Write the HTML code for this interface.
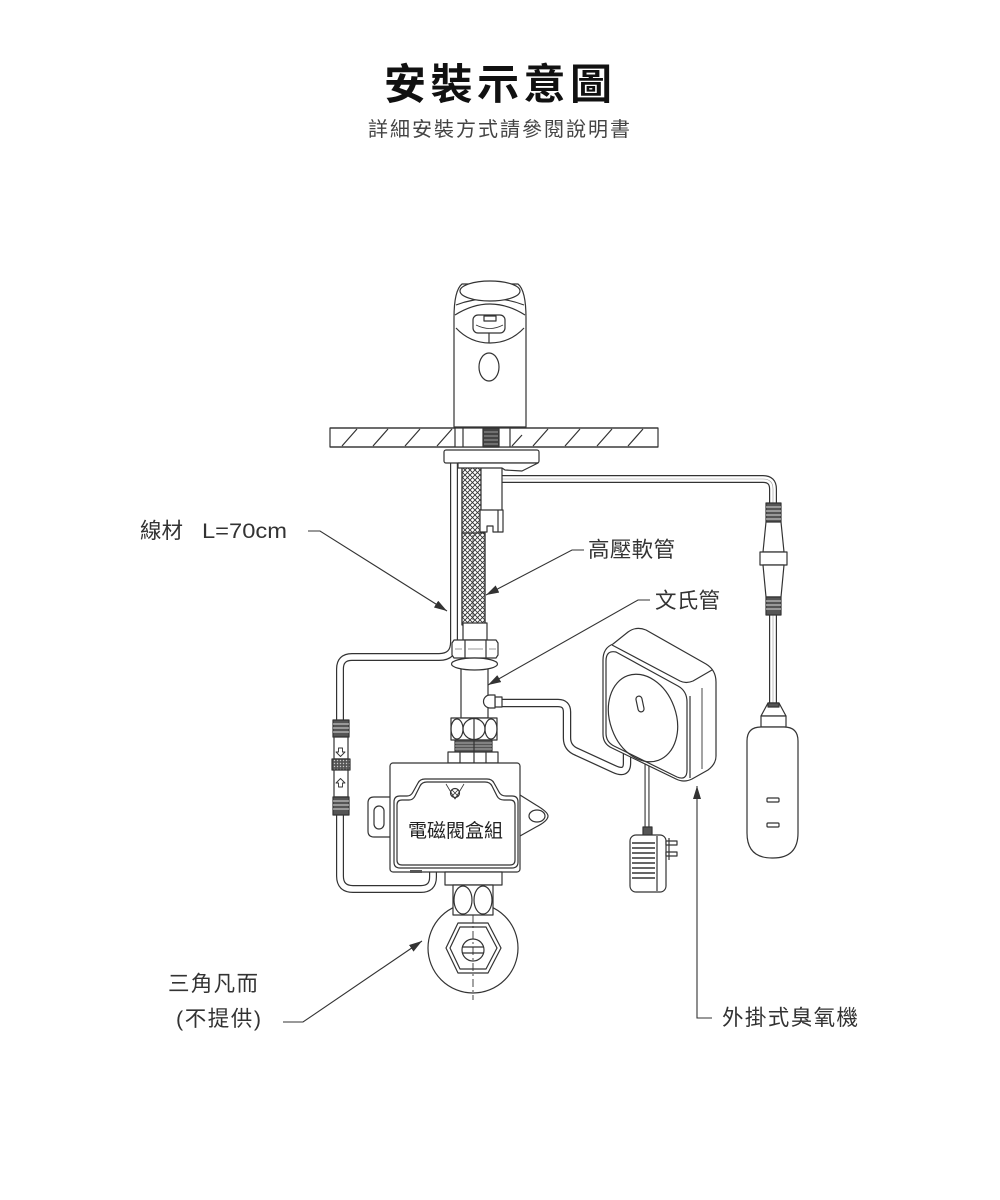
<!DOCTYPE html>
<html><head><meta charset="utf-8"><style>
html,body{margin:0;padding:0;background:#fff;}
svg{display:block;}
text{font-family:"Liberation Sans","Noto Sans CJK TC",sans-serif;}
</style></head><body>
<svg width="1000" height="1200" viewBox="0 0 1000 1200" xmlns="http://www.w3.org/2000/svg">
<defs>
<pattern id="braid" patternUnits="userSpaceOnUse" width="5" height="5">
<rect width="5" height="5" fill="#fff"/>
<path d="M0,0 L5,5 M5,0 L0,5" stroke="#333" stroke-width="0.9"/>
</pattern>
<pattern id="knurl" patternUnits="userSpaceOnUse" width="3" height="3">
<rect width="3" height="3" fill="#555"/>
<circle cx="1.5" cy="1.5" r="0.7" fill="#ccc"/>
</pattern>
<marker id="ah" markerUnits="userSpaceOnUse" markerWidth="14" markerHeight="8" refX="13" refY="4" orient="auto">
<path d="M0,0 L13,4 L0,8 Z" fill="#333"/>
</marker>
</defs>

<!-- Title -->
<text x="384" y="99" font-size="42" font-weight="bold" fill="#111" textLength="228" lengthAdjust="spacing">安裝示意圖</text>
<text x="368" y="136" font-size="20" fill="#444" textLength="262" lengthAdjust="spacing">詳細安裝方式請參閱說明書</text>

<g stroke="#333" stroke-width="1.2" fill="none" stroke-linejoin="round">

<!-- left cable double line -->
<path d="M454,463 L454,642 Q454,657 439,657 L352,657 Q340,657 340,669 L340,876 Q340,889 353,889 L421,889 Q433,889 433,877 L433,870" stroke="#333" stroke-width="8"/>
<path d="M454,463 L454,642 Q454,657 439,657 L352,657 Q340,657 340,669 L340,876 Q340,889 353,889 L421,889 Q433,889 433,877 L433,870" stroke="#fff" stroke-width="5.6"/>

<!-- right wire from faucet -->
<path d="M500,479 L763,479 Q773,479 773,489 L773,505" stroke="#333" stroke-width="8"/>
<path d="M500,479 L763,479 Q773,479 773,489 L773,505" stroke="#fff" stroke-width="5.6"/>
<path d="M500,479 L763,479 Q773,479 773,489 L773,505" stroke="#999" stroke-width="0.6"/>
<path d="M773,612 L773,705" stroke="#333" stroke-width="8"/>
<path d="M773,612 L773,705" stroke="#fff" stroke-width="5.6"/>
<path d="M773,612 L773,705" stroke="#999" stroke-width="0.6"/>

<!-- braided hose -->
<rect x="462" y="466" width="19" height="70" fill="url(#braid)"/>
<rect x="462" y="533" width="23" height="92" fill="url(#braid)"/>
<line x1="462" y1="466" x2="462" y2="625"/>
<line x1="485" y1="533" x2="485" y2="625"/>
<line x1="473" y1="535" x2="473" y2="620" stroke-width="0.8"/>
<!-- shank tube & fitting -->
<rect x="481" y="463" width="21" height="48" fill="#fff"/>
<path d="M480,510 L503,510 L503,532 L493,532 L493,526 L487,526 L487,532 L480,532 Z" fill="#fff"/>
<line x1="498" y1="510" x2="498" y2="532"/>

<!-- faucet body -->
<path d="M454,427 L454,318 C454,298 457,288 462,284 L518,284 C523,288 526,298 526,318 L526,427 Z" fill="#fff"/>
<path d="M456,305 Q490,292 524,305"/>
<ellipse cx="490" cy="291" rx="30" ry="10" fill="#fff"/>
<path d="M455,315 Q490,293 525,315"/>
<path d="M456,328 Q470,343 490,343 Q510,343 524,328"/>
<rect x="473" y="315" width="32" height="18" rx="5" fill="#fff"/>
<rect x="484" y="316" width="12" height="5" fill="#fff"/>
<path d="M476,325 Q490,332 503,325" stroke-width="0.8"/>
<line x1="489" y1="333" x2="489" y2="343"/>
<ellipse cx="489" cy="367" rx="10" ry="14"/>

<!-- counter -->
<rect x="330" y="428" width="328" height="19" fill="#fff"/>
<path d="M342,446 L357,429 M373,446 L388,429 M405,446 L420,429 M437,446 L452,429 M533,446 L548,429 M565,446 L580,429 M597,446 L612,429 M628,446 L643,429 M512,446 L522,435"/>
<rect x="455" y="428" width="56" height="19" fill="#fff" stroke="none"/>
<line x1="455" y1="428" x2="455" y2="447"/>
<line x1="463" y1="428" x2="463" y2="447"/>
<line x1="510" y1="428" x2="510" y2="447"/>
<rect x="483" y="428" width="16" height="19" fill="#444"/>
<path d="M484,432 L498,432 M484,436 L498,436 M484,440 L498,440 M484,444 L498,444" stroke="#bbb" stroke-width="0.8"/>
<line x1="330" y1="428" x2="658" y2="428"/>
<line x1="330" y1="447" x2="658" y2="447"/>

<!-- plate under counter -->
<rect x="444" y="450" width="95" height="13" rx="2" fill="#fff"/>
<path d="M458,463 L538,463 L522,471 L505,470 L502,468 L458,468 Z" fill="#fff"/>

<!-- hose bottom ferrule & nut -->
<rect x="463" y="623" width="24" height="17" fill="#fff"/>
<path d="M454,640 L496,640 L498,643 L498,655 L496,658 L454,658 L452,655 L452,643 Z" fill="#fff"/>
<line x1="465" y1="640" x2="465" y2="658"/>
<line x1="486" y1="640" x2="486" y2="658"/>
<path d="M455,649 L462,649 M468,649 L483,649 M489,649 L496,649" stroke-width="0.6"/>

<!-- venturi pipe -->
<rect x="461" y="664" width="27" height="54" fill="#fff"/>
<ellipse cx="474.5" cy="664" rx="23" ry="6" fill="#fff"/>
<!-- port tube -->
<path d="M500,703 L558,703 Q567,703 567,712 L567,738 Q567,748 577,752 L614,769 Q627,775 627,763 L627,750" stroke="#333" stroke-width="8.5"/>
<path d="M500,703 L558,703 Q567,703 567,712 L567,738 Q567,748 577,752 L614,769 Q627,775 627,763 L627,750" stroke="#fff" stroke-width="6"/>
<rect x="495" y="697" width="7" height="10" fill="#fff"/>
<path d="M490,695 L495,695 L495,708 L490,708 A6.5,6.5 0 0 1 490,695 Z" fill="#fff"/>

<!-- lower nut -->
<rect x="451" y="718" width="46" height="22" fill="#fff"/>
<ellipse cx="457" cy="729" rx="6" ry="10"/>
<ellipse cx="474" cy="729" rx="11" ry="10.5"/>
<ellipse cx="491" cy="729" rx="6" ry="10"/>
<rect x="455" y="740" width="37" height="12" fill="#555"/>
<path d="M455,743 L492,743 M455,746 L492,746 M455,749 L492,749" stroke="#ccc" stroke-width="0.8"/>
<line x1="474" y1="718" x2="474" y2="752"/>
<rect x="448" y="752" width="50" height="11" fill="#fff"/>
<path d="M460,752 L460,763 M474,752 L474,763 M486,752 L486,763"/>

<!-- power cable of ozone device -->
<path d="M647,755 L647,829" stroke="#333" stroke-width="5"/>
<path d="M647,755 L647,829" stroke="#fff" stroke-width="2.8"/>

<!-- ozone device -->
<path d="M603,660 Q603,648 613,644 L628,632 Q636,626 646,630 L706,664 Q716,670 716,682 L716,756 Q716,764 708,770 L692,779 Q684,783 676,779 L612,748 Q603,744 603,734 Z" fill="#fff"/>
<path d="M606,661 Q606,650 616,652 L678,686 Q687,691 687,702 L687,770 Q687,781 677,777 L614,746 Q606,742 606,733 Z"/>
<path d="M612,645 L680,681 Q686,684 693,681 L712,670"/>
<path d="M690,696 L690,778"/>
<path d="M702,688 L702,769" stroke-width="0.9"/>
<ellipse cx="643" cy="718" rx="33" ry="45" transform="rotate(-20 643 718)"/>
<rect x="637" y="696" width="6" height="16" rx="3" transform="rotate(-12 640 704)"/>

<!-- adapter -->
<rect x="643" y="827" width="9" height="9" fill="#555"/>
<rect x="630" y="835" width="36" height="57" rx="6" fill="#fff"/>
<path d="M632,843 L655,843 M632,848 L655,848 M632,853 L655,853 M632,858 L655,858 M632,863 L655,863 M632,868 L655,868 M632,873 L655,873 M632,878 L655,878" stroke-width="1.6"/>
<line x1="657" y1="836" x2="657" y2="891"/>
<rect x="666" y="841" width="11" height="4" fill="#fff"/>
<rect x="666" y="852" width="11" height="4" fill="#fff"/>
<line x1="669" y1="838" x2="669" y2="860"/>

<!-- right plug connector -->
<rect x="766" y="503" width="15" height="19" fill="#555"/>
<path d="M766,507 L781,507 M766,511 L781,511 M766,515 L781,515 M766,519 L781,519" stroke="#ddd" stroke-width="1"/>
<path d="M766,522 L781,522 L784,552 L763,552 Z" fill="#fff"/>
<rect x="760" y="552" width="27" height="13" fill="#fff"/>
<path d="M763,565 L784,565 L781,597 L766,597 Z" fill="#fff"/>
<rect x="766" y="597" width="15" height="18" fill="#555"/>
<path d="M766,601 L781,601 M766,605 L781,605 M766,609 L781,609" stroke="#ddd" stroke-width="1"/>
<path d="M768,703 L779,703 L786,716 L761,716 Z" fill="#fff"/>
<rect x="768" y="703" width="11" height="4" fill="#555"/>
<rect x="761" y="716" width="25" height="11" fill="#fff"/>
<path d="M761,727 L784,727 Q798,727 798,741 L798,833 Q798,858 773,858 L772,858 Q747,858 747,833 L747,741 Q747,727 761,727 Z" fill="#fff"/>
<rect x="767" y="798" width="12" height="4" rx="1"/>
<rect x="767" y="823" width="12" height="4" rx="1"/>

<!-- left connector -->
<rect x="333" y="720" width="16" height="17" fill="#555"/>
<path d="M333,724 L349,724 M333,728 L349,728 M333,732 L349,732" stroke="#ddd" stroke-width="1"/>
<rect x="334" y="737" width="14" height="22" fill="#fff"/>
<path d="M338.5,748 L342.5,748 L342.5,752 L345,752 L340.5,756.5 L336,752 L338.5,752 Z" stroke-width="0.9"/>
<rect x="332" y="759" width="18" height="11" fill="url(#knurl)"/>
<rect x="334" y="770" width="14" height="27" fill="#fff"/>
<path d="M338.5,787 L342.5,787 L342.5,783 L345,783 L340.5,778.5 L336,783 L338.5,783 Z" stroke-width="0.9"/>
<rect x="333" y="797" width="16" height="18" fill="#555"/>
<path d="M333,801 L349,801 M333,805 L349,805 M333,809 L349,809" stroke="#ddd" stroke-width="1"/>

<!-- valve (angle stop) -->
<circle cx="473" cy="948" r="45" fill="#fff"/>
<polygon points="446,948 458,923 488,923 501,948 488,973 458,973" fill="#fff"/>
<polygon points="450,948 460,927 486,927 497,948 486,969 460,969"/>
<circle cx="473" cy="950" r="11" fill="#fff"/>
<path d="M462,947 L484,947 M462,953 L484,953"/>
<line x1="473" y1="915" x2="473" y2="1000" stroke-dasharray="8,3,2,3" stroke-width="0.9"/>

<!-- solenoid box -->
<path d="M390,797 L374,797 Q368,797 368,803 L368,831 Q368,837 374,837 L390,837" fill="#fff"/>
<rect x="374" y="806" width="10" height="23" rx="5"/>
<path d="M520,795 L536,805 Q548,812 548,816 Q548,821 536,827 L520,836" fill="#fff"/>
<ellipse cx="537" cy="816" rx="8" ry="6"/>
<rect x="390" y="763" width="130" height="109" rx="3" fill="#fff"/>
<path d="M400,796 L407,796 Q411,796 413,792 L418,783 Q420,779 425,779 L487,779 Q492,779 494,783 L499,792 Q501,796 506,796 L512,796 Q518,796 518,802 L518,862 Q518,868 512,868 L400,868 Q394,868 394,862 L394,802 Q394,796 400,796 Z"/>
<path d="M402,800 L409,800 Q413,800 415,796 L420,786 Q422,782 427,782 L485,782 Q490,782 492,786 L497,796 Q499,800 504,800 L510,800 Q515,800 515,805 L515,860 Q515,865 510,865 L402,865 Q397,865 397,860 L397,805 Q397,800 402,800 Z"/>
<circle cx="455" cy="793" r="4.5" fill="#fff"/>
<path d="M452,790 L458,796 M458,790 L452,796" stroke-width="0.8"/>
<path d="M446,784 L455,799 L464,784" stroke-width="0.8"/>
<rect x="410" y="870" width="12" height="3" fill="#555" stroke="none"/>
<rect x="445" y="872" width="57" height="13" fill="#fff"/>
<rect x="453" y="885" width="40" height="30" fill="#fff"/>
<ellipse cx="463" cy="900" rx="9" ry="14"/>
<ellipse cx="483" cy="900" rx="9" ry="14"/>
</g>

<text x="408" y="837" font-size="19" fill="#222" textLength="95" lengthAdjust="spacing">電磁閥盒組</text>

<!-- leaders -->
<g stroke="#333" stroke-width="1.1" fill="none">
<path d="M308,531 L320,531 L447,611" marker-end="url(#ah)"/>
<path d="M584,550 L572,550 L486,595" marker-end="url(#ah)"/>
<path d="M650,600 L638,600 L488,685" marker-end="url(#ah)"/>
<path d="M283,1022 L303,1022 L422,941" marker-end="url(#ah)"/>
<path d="M712,1018 L697,1018 L697,786" marker-end="url(#ah)"/>
</g>

<!-- labels -->
<g font-size="21.5" fill="#333">
<text x="140" y="538" textLength="43" lengthAdjust="spacing">線材</text>
<text x="202" y="538" textLength="85" lengthAdjust="spacingAndGlyphs">L=70cm</text>
<text x="588" y="557" textLength="87" lengthAdjust="spacing">高壓軟管</text>
<text x="655" y="608" textLength="65" lengthAdjust="spacing">文氏管</text>
<text x="168" y="991" textLength="90" lengthAdjust="spacing">三角凡而</text>
<text x="176" y="1026" textLength="85" lengthAdjust="spacing">(不提供)</text>
<text x="722" y="1025" textLength="136" lengthAdjust="spacing">外掛式臭氧機</text>
</g>
</svg>
</body></html>
